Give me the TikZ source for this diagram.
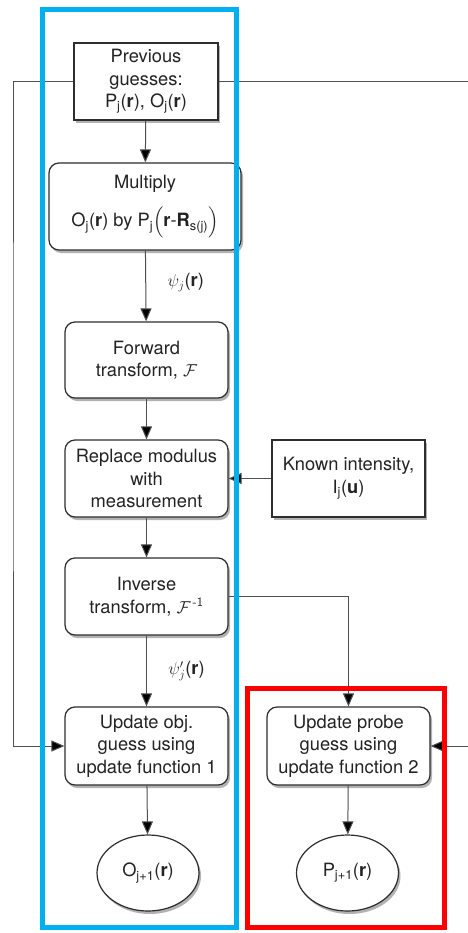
\documentclass[tikz,border=0pt]{standalone}
\usepackage{amsmath}
\usepackage{fontspec}
\setmainfont{TeX Gyre Heros}
\usetikzlibrary{arrows.meta,shadows,shapes.geometric}
\definecolor{cblue}{RGB}{0,176,240}
\definecolor{cred}{RGB}{255,0,0}
\definecolor{lgray}{RGB}{80,80,80}
\definecolor{bgray}{RGB}{45,45,45}
\definecolor{tgray}{RGB}{35,35,35}
\newcommand{\sbs}[1]{\textsubscript{#1}}
\begin{document}
\begin{tikzpicture}[x=1pt,y=-1pt,
  font=\fontsize{18.3}{22.5}\selectfont,
  shad/.style={drop shadow={shadow xshift=2pt,shadow yshift=-3pt,opacity=0.3,fill=black}},
  box/.style={draw=bgray,line width=1.2pt,fill=white,text=tgray,align=center,inner sep=0pt,shad},
  rbox/.style={box,rounded corners=10pt},
  oval/.style={box,ellipse,minimum width=102pt,minimum height=76pt},
  arr/.style={draw=lgray,line width=1pt,-{Triangle[length=13pt,width=11pt,fill=black]}},
  frame/.style={line width=5pt}]
\useasboundingbox (0,0) rectangle (467,933);
\fill[white] (0,0) rectangle (467,933);

\node[box,minimum width=144pt,minimum height=77pt] (prev) at (146,81.5)
  {Previous\\guesses:\\P\sbs{j}(\textbf{r}), O\sbs{j}(\textbf{r})};
\node[rbox,minimum width=192pt,minimum height=87pt] (mult) at (145,206.5)
  {Multiply\\[14pt]O\sbs{j}(\textbf{r}) by P\sbs{j}$\Big($\textbf{r}-\textbf{R}\sbs{s(j)}$\Big)$};
\node[rbox,minimum width=163pt,minimum height=76pt] (fwd) at (146.5,360)
  {Forward\\transform, $\mathcal{F}$};
\node[rbox,minimum width=163pt,minimum height=77pt] (repl) at (146.5,478.5)
  {Replace modulus\\with\\measurement};
\node[box,minimum width=153pt,minimum height=77pt] (known) at (348.5,478.5)
  {Known intensity,\\I\sbs{j}(\textbf{u})};
\node[rbox,minimum width=163pt,minimum height=77pt] (inv) at (146.5,596.5)
  {Inverse\\transform, $\mathcal{F}^{\,\textsf{-1}}$};
\node[rbox,minimum width=163pt,minimum height=78pt] (updo) at (146.5,746)
  {Update obj.\\guess using\\update function 1};
\node[rbox,minimum width=163pt,minimum height=78pt] (updp) at (348.5,746)
  {Update probe\\guess using\\update function 2};
\node[oval] (eo) at (148,873) {O\sbs{j+1}(\textbf{r})};
\node[oval] (ep) at (347.5,873) {P\sbs{j+1}(\textbf{r})};

\coordinate (lx) at (13,400);
\coordinate (rx) at (472,400);

\draw[arr] (prev) -- (mult);
\draw[arr] (mult) -- node[pos=0.45,right=18pt,text=tgray]{$\psi_j$(\textbf{r})} (fwd);
\draw[arr] (fwd) -- (repl);
\draw[arr] (known) -- (repl);
\draw[arr] (repl) -- (inv);
\draw[arr] (inv) -- node[pos=0.5,right=18pt,text=tgray]{$\psi'_j$(\textbf{r})} (updo);
\draw[arr] (inv.east) -| (updp.north);
\draw[arr] (updo) -- (eo);
\draw[arr] (updp) -- (ep);
\draw[arr] (prev.west) -| (lx) |- (updo.west);
\draw[arr] (prev.east) -| (rx) |- (updp.east);

\draw[frame,cblue] (42,10) rectangle (236,927);
\draw[frame,cred] (247.5,688.5) rectangle (444.5,927);
\end{tikzpicture}
\end{document}
